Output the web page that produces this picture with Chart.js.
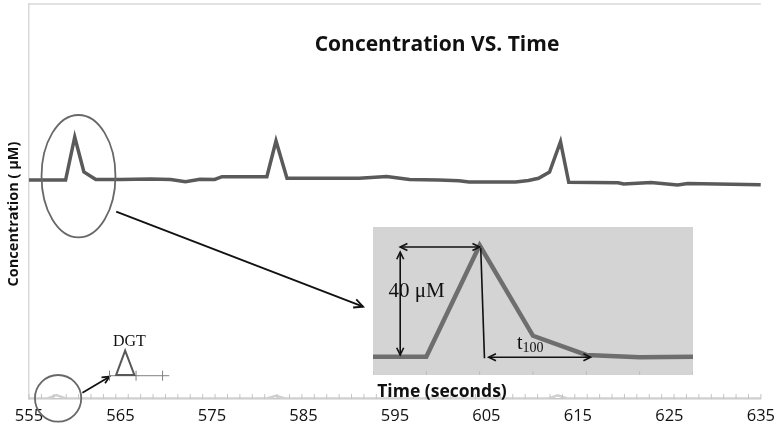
<!DOCTYPE html>
<html>
<head>
<meta charset="utf-8">
<script src="https://cdn.jsdelivr.net/npm/chart.js@4.4.1/dist/chart.umd.min.js"></script>
<style>
    html, body { margin: 0; padding: 0; background: #fff; }
    #wrap { position: relative; width: 782px; height: 430px; }
    #inset { position: absolute; left: 373px; top: 227px; width: 320px; height: 148px; background: #d4d4d4; }
</style>
</head>
<body>
<div id="wrap">
    <canvas id="mainChart" width="782" height="430"></canvas>
    <div id="inset"><canvas id="insetChart" width="320" height="148"></canvas></div>
</div>
<script>
// Série principal (µM)
const timeSec = [555, 559.0, 560.0, 561.0, 562.3, 565.0, 568.3, 570.5, 572.1, 573.7, 575.3, 576.1, 581.0, 582.0, 583.2,
    591.1, 594.1, 596.6, 599.8, 602.0, 603.1, 608.2, 609.6, 610.7, 611.9, 613.1, 614.0, 619.4, 620.0, 623.0, 625.9, 627.0, 635];
const concMain = [204.0, 204.0, 244.1, 211.5, 204.5, 204.5, 205.0, 204.5, 202.4, 204.7, 204.5, 207.1, 207.1, 240.4, 205.6,
    205.6, 207.3, 204.5, 204.0, 203.4, 202.2, 202.2, 203.6, 205.6, 211.5, 239.7, 201.9, 201.5, 200.3, 201.7, 199.4, 200.8, 199.6];

// Série clara (DGT) quase em zero
const timeDgt = [555, 557.0, 558.0, 559.0, 581.0, 582.0, 583.0, 611.8, 612.8, 613.8, 635];
const concDgt = [0.5, 0.5, 3.7, 0.5, 0.5, 3.0, 0.5, 0.5, 3.4, 0.5, 0.5];

const xTicks = [555, 565, 575, 585, 595, 605, 615, 625, 635];

// Detalhe do pico (inset)
const insetStep = [0, 1, 2, 3, 4, 5, 6];
const insetConc = [0, 0, 40, 7.5, 0.6, -0.2, 0];

const MINOR_STEP = 1.356;

function arrowHead(ctx, x, y, ang, len) {
    ctx.beginPath();
    ctx.moveTo(x - len * Math.cos(ang - 0.45), y - len * Math.sin(ang - 0.45));
    ctx.lineTo(x, y);
    ctx.lineTo(x - len * Math.cos(ang + 0.45), y - len * Math.sin(ang + 0.45));
    ctx.stroke();
}

function arrow(ctx, x1, y1, x2, y2, both, len = 9) {
    ctx.beginPath();
    ctx.moveTo(x1, y1);
    ctx.lineTo(x2, y2);
    ctx.stroke();
    const ang = Math.atan2(y2 - y1, x2 - x1);
    arrowHead(ctx, x2, y2, ang, len);
    if (both) arrowHead(ctx, x1, y1, ang + Math.PI, len);
}

function ellipse(ctx, cx, cy, rx, ry) {
    ctx.beginPath();
    ctx.ellipse(cx, cy, rx, ry, 0, 0, Math.PI * 2);
    ctx.stroke();
}

const mainDecor = {
    id: 'mainDecor',
    afterDraw(chart) {
        const { ctx, chartArea: a, scales: { x, y } } = chart;
        const X = v => x.getPixelForValue(v);
        const Y = v => y.getPixelForValue(v);
        ctx.save();

        // moldura superior
        ctx.strokeStyle = '#d9d9d9';
        ctx.lineWidth = 1.5;
        ctx.beginPath();
        ctx.moveTo(a.left, a.top);
        ctx.lineTo(a.right, a.top);
        ctx.stroke();

        // marcas menores do eixo X (para dentro)
        ctx.strokeStyle = '#c4c4c4';
        ctx.lineWidth = 1;
        for (let v = 555; v <= 635.01; v += MINOR_STEP) {
            ctx.beginPath();
            ctx.moveTo(X(v), a.bottom);
            ctx.lineTo(X(v), a.bottom - 5);
            ctx.stroke();
        }

        // elipses
        ctx.strokeStyle = '#686868';
        ctx.lineWidth = 1.8;
        ellipse(ctx, X(560.41), Y(207.6), X(560.41 + 4.04) - X(560.41), Y(0) - Y(57.0));
        ellipse(ctx, X(558.18), Y(0.65), X(558.18 + 2.53) - X(558.18), Y(0) - Y(21.7));

        // setas
        ctx.strokeStyle = '#111';
        ctx.lineWidth = 1.8;
        arrow(ctx, X(564.53), Y(174.5), X(591.52), Y(86.0), false, 10);
        arrow(ctx, X(560.84), Y(5.9), X(563.8), Y(20.8), false, 8);

        // mini eixo DGT
        ctx.strokeStyle = '#808080';
        ctx.lineWidth = 1;
        ctx.beginPath();
        ctx.moveTo(X(563.8), Y(21.7));
        ctx.lineTo(X(570.33), Y(21.7));
        ctx.stroke();
        [563.8, 566.7, 569.6].forEach(t => {
            ctx.beginPath();
            ctx.moveTo(X(t), Y(21.7) - 5);
            ctx.lineTo(X(t), Y(21.7) + 5);
            ctx.stroke();
        });
        ctx.strokeStyle = '#585858';
        ctx.lineWidth = 2;
        ctx.beginPath();
        ctx.moveTo(X(564.53), Y(22.4));
        ctx.lineTo(X(565.51), Y(45.0));
        ctx.lineTo(X(566.52), Y(22.4));
        ctx.closePath();
        ctx.stroke();

        ctx.fillStyle = '#111';
        ctx.font = '16px "Liberation Serif", serif';
        ctx.textAlign = 'center';
        ctx.textBaseline = 'alphabetic';
        ctx.fillText('DGT', X(565.98), Y(49.4));

        // títulos
        ctx.font = 'bold 21px "Open Sans"';
        ctx.textBaseline = 'middle';
        ctx.fillText('Concentration VS. Time', 437, 45);
        ctx.font = 'bold 17.5px "Open Sans"';
        ctx.fillText('Time (seconds)', 442, 392);

        ctx.translate(14, 214);
        ctx.rotate(-Math.PI / 2);
        ctx.font = 'bold 14.5px "Open Sans"';
        ctx.fillText('Concentration ( \u03bcM)', 0, 0);
        ctx.restore();
    }
};

const insetDecor = {
    id: 'insetDecor',
    afterDraw(chart) {
        const { ctx, chartArea: a, scales: { x, y } } = chart;
        const X = v => x.getPixelForValue(v);
        const Y = v => y.getPixelForValue(v);
        ctx.save();

        ctx.strokeStyle = '#bdbdbd';
        ctx.lineWidth = 1;
        insetStep.forEach(s => {
            ctx.beginPath();
            ctx.moveTo(X(s), a.bottom);
            ctx.lineTo(X(s), a.bottom - 4);
            ctx.stroke();
        });

        ctx.strokeStyle = '#111';
        ctx.lineWidth = 1.6;
        arrow(ctx, X(0.51), Y(39.4), X(2.0), Y(39.4), true, 8);
        arrow(ctx, X(0.51), Y(37.6), X(0.51), Y(0.6), true, 8);
        arrow(ctx, X(2.17), Y(-0.2), X(4.08), Y(-0.2), true, 8);
        ctx.beginPath();
        ctx.moveTo(X(2.02), Y(39.0));
        ctx.lineTo(X(2.09), Y(-0.6));
        ctx.stroke();

        ctx.fillStyle = '#111';
        ctx.textAlign = 'left';
        ctx.textBaseline = 'alphabetic';
        ctx.font = '21px "Liberation Serif", serif';
        ctx.fillText('40 \u03bcM', X(0.29), Y(21.5));
        ctx.font = '20px "Liberation Serif", serif';
        ctx.fillText('t', X(2.70), Y(2.8));
        const tw = ctx.measureText('t').width;
        ctx.font = '14px "Liberation Serif", serif';
        ctx.fillText('100', X(2.70) + tw, Y(1.6));
        ctx.restore();
    }
};

new Chart(document.getElementById('mainChart'), {
    type: 'line',
    data: {
        datasets: [{
            data: timeSec.map((t, i) => ({ x: t, y: concMain[i] })),
            borderColor: '#5a5a5a',
            borderWidth: 3.5,
            pointRadius: 0,
            tension: 0
        }, {
            data: timeDgt.map((t, i) => ({ x: t, y: concDgt[i] })),
            borderColor: '#d0d0d0',
            borderWidth: 2.5,
            pointRadius: 0,
            tension: 0
        }]
    },
    options: {
        responsive: false,
        animation: false,
        layout: { padding: { top: 4, right: 17, left: 0, bottom: 0 } },
        plugins: { legend: { display: false }, tooltip: { enabled: false } },
        scales: {
            x: {
                type: 'linear',
                min: 555,
                max: 635,
                afterBuildTicks: s => { s.ticks = xTicks.map(v => ({ value: v })); },
                afterFit: s => { s.height = 31; },
                grid: { display: false, drawTicks: false },
                border: { display: true, color: '#c8c8c8', width: 1.5 },
                ticks: { padding: 7, color: '#111', font: { family: 'Open Sans', size: 16.5 }, maxRotation: 0, autoSkip: false }
            },
            y: {
                min: 0,
                max: 368,
                afterFit: s => { s.width = 29; },
                grid: { display: false, drawTicks: false },
                border: { display: true, color: '#d9d9d9', width: 1.5 },
                ticks: { display: false }
            }
        }
    },
    plugins: [mainDecor]
});

new Chart(document.getElementById('insetChart'), {
    type: 'line',
    data: {
        datasets: [{
            data: insetStep.map((s, i) => ({ x: s, y: insetConc[i] })),
            borderColor: '#6e6e6e',
            borderWidth: 4.5,
            pointRadius: 0,
            tension: 0
        }]
    },
    options: {
        responsive: false,
        animation: false,
        layout: { padding: 0 },
        plugins: { legend: { display: false }, tooltip: { enabled: false } },
        scales: {
            x: { type: 'linear', min: 0, max: 6, display: false },
            y: { min: -6.6, max: 46.6, display: false }
        }
    },
    plugins: [insetDecor]
});
</script>
</body>
</html>
